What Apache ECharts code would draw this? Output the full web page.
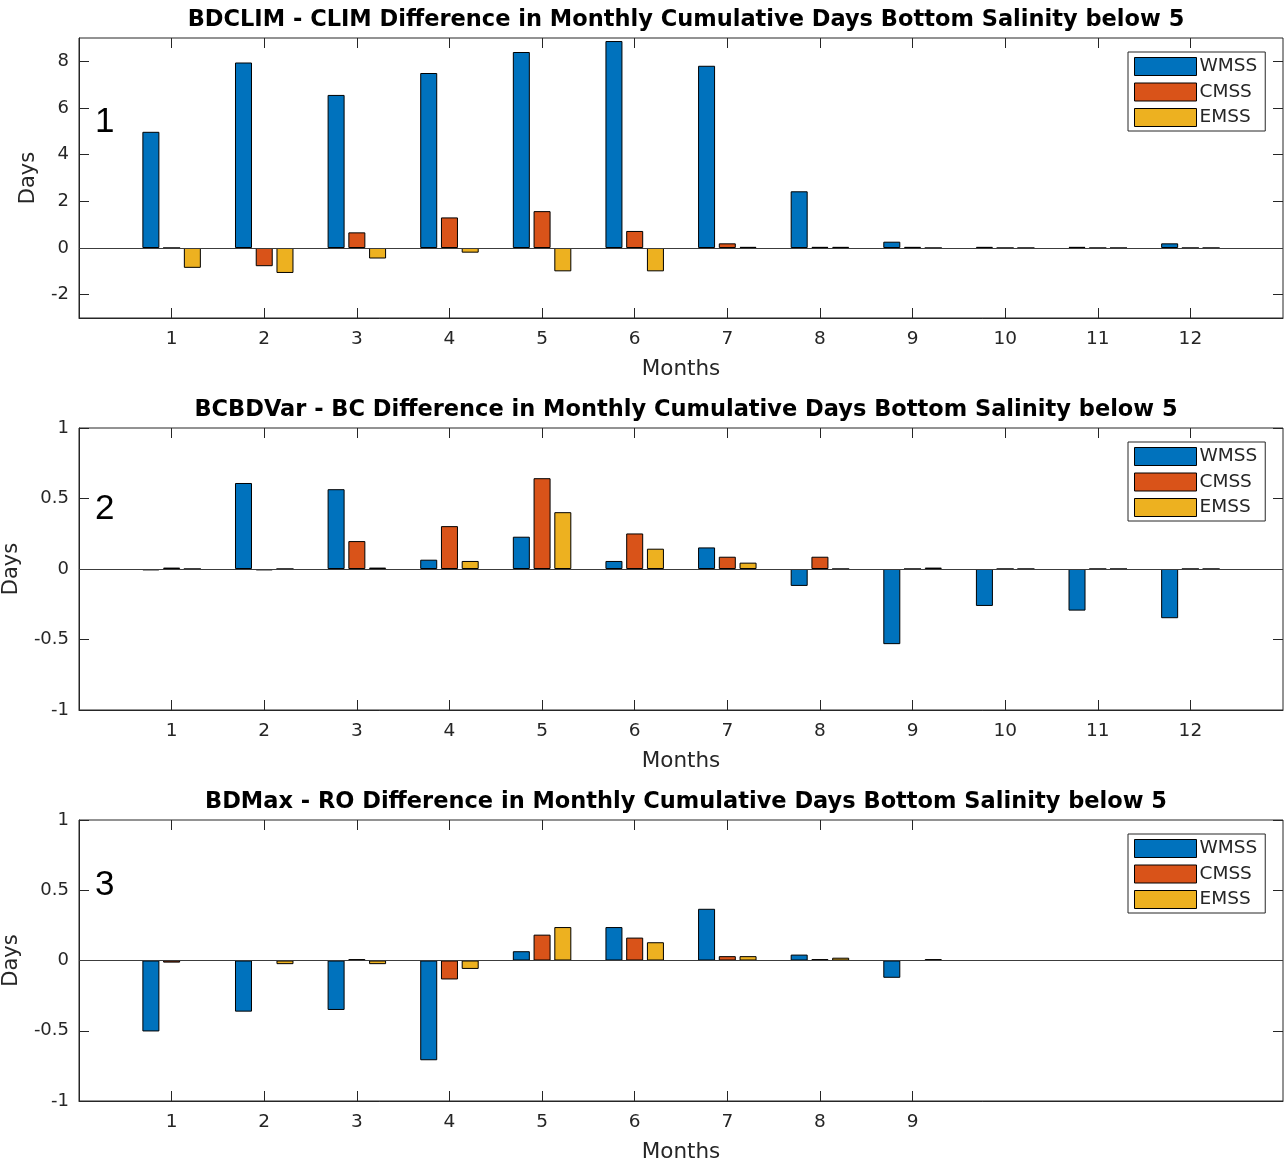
<!DOCTYPE html>
<html>
<head>
<meta charset="utf-8">
<script src="https://cdn.jsdelivr.net/npm/echarts@6/dist/echarts.min.js"></script>
<style>
html,body{margin:0;padding:0;background:#fff;}
#chart{width:1286px;height:1164px;}
</style>
</head>
<body>
<div id="chart"></div>
<script>
// ---- data ----
const months12 = [1, 2, 3, 4, 5, 6, 7, 8, 9, 10, 11, 12];
const months9 = [1, 2, 3, 4, 5, 6, 7, 8, 9];
const seriesNames = ['WMSS', 'CMSS', 'EMSS'];
const titles = [
  'BDCLIM - CLIM Difference in Monthly Cumulative Days Bottom Salinity below 5',
  'BCBDVar - BC Difference in Monthly Cumulative Days Bottom Salinity below 5',
  'BDMax - RO Difference in Monthly Cumulative Days Bottom Salinity below 5'
];
const panelLabels = ['1', '2', '3'];

const p1_WMSS = [4.98, 7.95, 6.56, 7.5, 8.4, 8.87, 7.81, 2.43, 0.27, 0.05, 0.05, 0.2];
const p1_CMSS = [0, -0.78, 0.67, 1.31, 1.58, 0.73, 0.2, 0.05, 0.05, 0, 0, 0];
const p1_EMSS = [-0.85, -1.07, -0.45, -0.2, -1.0, -1.0, 0.05, 0.05, 0, 0, 0, 0];

const p2_WMSS = [-0.01, 0.61, 0.566, 0.066, 0.229, 0.057, 0.153, -0.12, -0.533, -0.262, -0.295, -0.349];
const p2_CMSS = [0.01, -0.01, 0.198, 0.304, 0.644, 0.252, 0.087, 0.087, 0, 0, 0, 0];
const p2_EMSS = [0, 0, 0.01, 0.057, 0.403, 0.144, 0.045, 0, 0.01, 0, 0, 0];

const p3_WMSS = [-0.505, -0.364, -0.352, -0.71, 0.066, 0.238, 0.368, 0.042, -0.123];
const p3_CMSS = [-0.015, 0, 0.01, -0.135, 0.184, 0.163, 0.031, 0.01, 0];
const p3_EMSS = [0, -0.026, -0.026, -0.06, 0.238, 0.13, 0.031, 0.02, 0.01];

const yTicks1 = [-2, 0, 2, 4, 6, 8];
const yTicks23 = [-1, -0.5, 0, 0.5, 1];

// ---- styling / layout ----
const colors = ['#0072BD', '#D95319', '#EDB120'];
const axisColor = '#262626';
const FONT = 'DejaVu Sans';
const gridTops = [38, 428, 820];
const gridHeights = [280, 282, 281];
const panels = [
  { months: months12, vals: [p1_WMSS, p1_CMSS, p1_EMSS], yMin: -3, yMax: 9, yTicks: yTicks1, nameGap: 40 },
  { months: months12, vals: [p2_WMSS, p2_CMSS, p2_EMSS], yMin: -1, yMax: 1, yTicks: yTicks23, nameGap: 57 },
  { months: months9, vals: [p3_WMSS, p3_CMSS, p3_EMSS], yMin: -1, yMax: 1, yTicks: yTicks23, nameGap: 57 }
];

const grid = [], xAxis = [], yAxis = [], series = [], title = [], legend = [], graphic = [];
panels.forEach((p, k) => {
  grid.push({ left: 79, width: 1204, top: gridTops[k], height: gridHeights[k], show: true,
    outerBoundsMode: 'none', containLabel: false,
    borderColor: axisColor, borderWidth: 1, backgroundColor: 'transparent' });
  const base = { gridIndex: k, type: 'value', min: 0, max: 13, splitLine: { show: false } };
  xAxis.push(Object.assign({}, base, {
    position: 'bottom',
    name: 'Months', nameLocation: 'middle', nameGap: 40,
    nameTextStyle: { fontFamily: FONT, fontSize: 21.5, color: axisColor },
    axisLine: { show: true, onZero: false, lineStyle: { color: axisColor } },
    axisTick: { show: true, inside: true, length: 10, customValues: p.months, lineStyle: { color: axisColor } },
    axisLabel: { show: true, customValues: p.months, margin: 12, fontFamily: FONT, fontSize: 18.5, color: axisColor }
  }));
  xAxis.push(Object.assign({}, base, {
    position: 'top',
    axisLine: { show: false, onZero: false },
    axisTick: { show: true, inside: true, length: 10, customValues: p.months, lineStyle: { color: axisColor } },
    axisLabel: { show: false }
  }));
  const ybase = { gridIndex: k, type: 'value', min: p.yMin, max: p.yMax, splitLine: { show: false } };
  yAxis.push(Object.assign({}, ybase, {
    position: 'left',
    name: 'Days', nameLocation: 'middle', nameGap: p.nameGap,
    nameTextStyle: { fontFamily: FONT, fontSize: 21, color: axisColor },
    axisLine: { show: true, onZero: false, lineStyle: { color: axisColor } },
    axisTick: { show: true, inside: true, length: 10, customValues: p.yTicks, lineStyle: { color: axisColor } },
    axisLabel: { show: true, customValues: p.yTicks, margin: 10, fontFamily: FONT, fontSize: 18, color: axisColor }
  }));
  yAxis.push(Object.assign({}, ybase, {
    position: 'right',
    axisLine: { show: false, onZero: false },
    axisTick: { show: true, inside: true, length: 10, customValues: p.yTicks, lineStyle: { color: axisColor } },
    axisLabel: { show: false }
  }));
  seriesNames.forEach((nm, s) => {
    const ser = {
      type: 'bar', name: nm,
      xAxisIndex: 2 * k, yAxisIndex: 2 * k,
      data: p.months.map((m, i) => [m, p.vals[s][i]]),
      barWidth: 17, barGap: '22%',
      itemStyle: { color: colors[s], borderColor: '#000', borderWidth: 1 },
      emphasis: { disabled: true },
      animation: false
    };
    if (s === 0) {
      ser.markLine = {
        silent: true, symbol: 'none', label: { show: false },
        lineStyle: { color: '#3c3c3c', width: 1, type: 'solid' },
        data: [{ yAxis: 0 }], animation: false
      };
    }
    series.push(ser);
  });
  title.push({
    text: titles[k], left: 681, textAlign: 'center', top: gridTops[k] - 34,
    textStyle: { fontFamily: FONT, fontSize: 22.5, fontWeight: 'bold', color: '#000' }
  });
  legend.push({
    orient: 'vertical', left: 1128, top: gridTops[k] + 14,
    data: seriesNames, icon: 'rect', itemWidth: 62, itemHeight: 18, itemGap: 6.5,
    padding: [5, 8, 4, 6], borderColor: axisColor, borderWidth: 1, backgroundColor: '#fff',
    itemStyle: { borderColor: '#000', borderWidth: 1 },
    textStyle: { fontFamily: FONT, fontSize: 18.5, color: axisColor, padding: [0, 0, 0, -2] },
    selectedMode: false
  });
  graphic.push({
    type: 'text', left: 95, top: [105, 492, 868][k],
    style: { text: panelLabels[k], font: '35px "Liberation Sans"', fill: '#000' }
  });
});

const chart = echarts.init(document.getElementById('chart'), null, { renderer: 'canvas' });
chart.setOption({
  animation: false,
  backgroundColor: '#fff',
  title, legend, grid, xAxis, yAxis, series, graphic
});
</script>
</body>
</html>
